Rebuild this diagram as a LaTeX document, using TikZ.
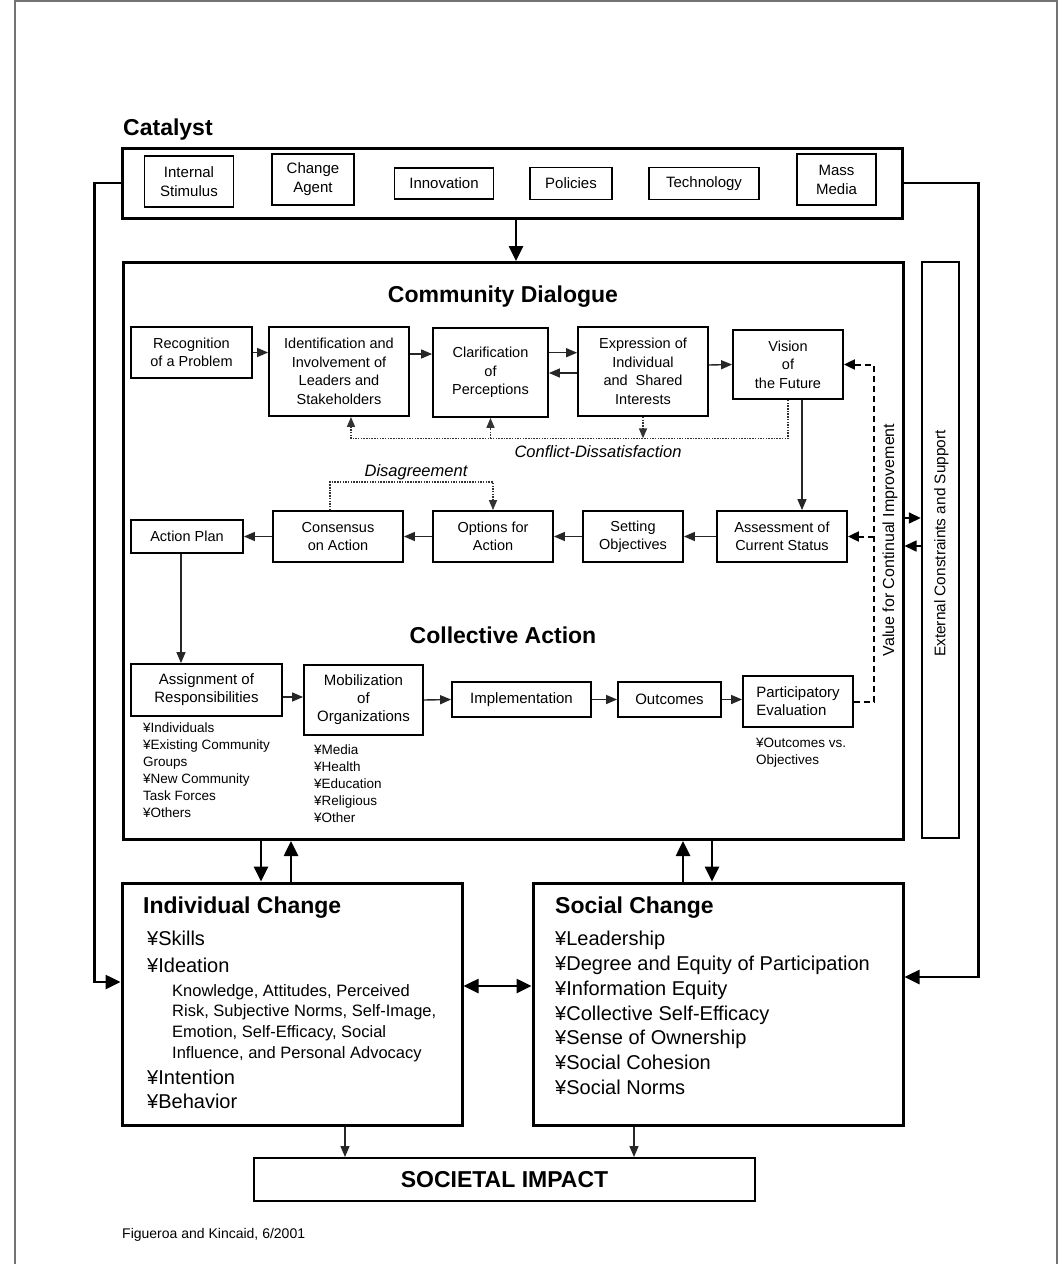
\documentclass[tikz,border=0pt]{standalone}
\usepackage{fontspec}
\setmainfont{Liberation Sans}
\usepackage{tikz}
\usetikzlibrary{arrows.meta,positioning,calc}

\newcommand{\catfs}{\fontsize{15}{19}\selectfont}
\newcommand{\boxfs}{\fontsize{14.5}{18.5}\selectfont}
\newcommand{\actfs}{\fontsize{15}{18}\selectfont}
\newcommand{\headfs}{\fontsize{23}{27}\selectfont\bfseries}
\newcommand{\listfs}{\fontsize{13.5}{16.9}\selectfont}
\newcommand{\itemfs}{\fontsize{20}{24.8}\selectfont}
\newcommand{\subfs}{\fontsize{16.5}{20.8}\selectfont}
\newcommand{\notefs}{\fontsize{16.5}{19}\selectfont\itshape}
\newcommand{\extfs}{\fontsize{15.4}{18}\selectfont}
\newcommand{\valfs}{\fontsize{16}{19}\selectfont}
\newcommand{\creditfs}{\fontsize{14}{17}\selectfont}

\tikzset{
  box/.style={draw, line width=1.8pt, align=center, inner sep=0pt, font=\boxfs},
  bigbox/.style={draw, line width=3pt, inner sep=0pt},
  headlbl/.style={anchor=base west, inner sep=0pt, font=\headfs},
  notelbl/.style={inner sep=0pt, font=\notefs},
  listtxt/.style={anchor=north west, inner sep=0pt, align=left, font=\listfs},
  frame/.style={line width=2.5pt, black!55},
  thinarr/.style={line width=1.4pt, black!85, -{Triangle[length=11pt,width=9pt]}},
  midarr/.style={line width=1.6pt, -{Triangle[length=12pt,width=11pt]}},
  boldarr/.style={line width=2.6pt, -{Triangle[length=15pt,width=14pt]}},
  dotline/.style={line width=1.5pt, black!80, dash pattern=on 1.5pt off 1.2pt},
  dotarr/.style={dotline, -{Triangle[length=10pt,width=8pt]}},
  dasharr/.style={line width=2pt, dash pattern=on 6pt off 4pt, -{Triangle[length=11pt,width=10pt]}},
}

\begin{document}
\begin{tikzpicture}[x=1pt,y=-1pt]
  \useasboundingbox (0,0) rectangle (1062,1264);

  % page frame
  \draw[frame] (15,1264) -- (15,1) -- (1057,1) -- (1057,1264);

  % catalyst
  \node[headlbl] (catlbl) at (123,135) {Catalyst};
  \node[bigbox, minimum width=780pt, minimum height=70pt] (catalyst) at (512,183) {};
  \node[box, font=\catfs, minimum width=89pt, minimum height=51pt] (intstim) at (189,181.5) {Internal\\Stimulus};
  \node[box, font=\catfs, minimum width=82pt, minimum height=51pt] (agent) at (313,179.5) {Change\\Agent};
  \node[box, font=\catfs, minimum width=99pt, minimum height=31pt] (innov) at (444,183.5) {Innovation};
  \node[box, font=\catfs, minimum width=82pt, minimum height=32pt] (policies) at (571,183.5) {Policies};
  \node[box, font=\catfs, minimum width=110pt, minimum height=32pt] (tech) at (704,183.5) {Technology};
  \node[box, font=\catfs, minimum width=79pt, minimum height=51pt] (massmedia) at (836.5,179.5) {Mass\\Media};

  % main frames
  \node[bigbox, minimum width=780pt, minimum height=577pt] (comm) at (513,551) {};
  \node[box, line width=2.4pt, minimum width=37pt, minimum height=576pt] (ext) at (940.5,550) {};
  \node[rotate=90, inner sep=0pt, font=\extfs] (extlbl) at (941.5,543.5) {External Constraints and Support};

  % community dialogue
  \node[headlbl, anchor=base] (dialbl) at (503,302) {Community Dialogue};
  \node[box, minimum width=121pt, minimum height=51pt] (recog) at (191.5,352.5) {Recognition\\of a Problem};
  \node[box, minimum width=140pt, minimum height=89pt] (ident) at (339,371.5) {Identification and\\Involvement of\\Leaders and\\Stakeholders};
  \node[box, minimum width=115pt, minimum height=89pt] (clar) at (490.5,372.5) {Clarification\\of\\Perceptions};
  \node[box, minimum width=130pt, minimum height=89pt] (expr) at (643,371.5) {Expression of\\Individual\\and\ \ Shared\\Interests};
  \node[box, minimum width=110pt, minimum height=69pt] (vision) at (788,364.5) {Vision\\of\\the Future};

  \node[box, minimum width=112pt, minimum height=33pt] (plan) at (187,536.5) {Action Plan};
  \node[box, minimum width=130pt, minimum height=51pt] (consensus) at (338,536.5) {Consensus\\on Action};
  \node[box, minimum width=120pt, minimum height=51pt] (options) at (493,536.5) {Options for\\Action};
  \node[box, minimum width=100pt, minimum height=51pt] (setting) at (633,536.5) {Setting\\Objectives};
  \node[box, minimum width=130pt, minimum height=51pt] (assess) at (782,536.5) {Assessment of\\Current Status};

  % collective action
  \node[headlbl, anchor=base] (actlbl) at (503,643) {Collective Action};
  \node[box, font=\actfs, minimum width=151pt, minimum height=52pt] (assign) at (206.5,690) {Assignment of\\Responsibilities};
  \node[box, font=\actfs, minimum width=119pt, minimum height=70pt] (mobil) at (363.5,700) {Mobilization\\of\\Organizations};
  \node[box, font=\actfs, minimum width=139pt, minimum height=35pt] (impl) at (521.5,699.5) {Implementation};
  \node[box, font=\actfs, minimum width=103pt, minimum height=35pt] (outc) at (669.5,699.5) {Outcomes};
  \node[box, font=\actfs, align=left, minimum width=110pt, minimum height=51pt] (part) at (798,701.5) {Participatory\\Evaluation};

  \node[listtxt] (assignlist) at (143,723) {¥Individuals\\¥Existing Community\\Groups\\¥New Community\\Task Forces\\¥Others};
  \node[listtxt] (mobillist) at (314,745) {¥Media\\¥Health\\¥Education\\¥Religious\\¥Other};
  \node[listtxt] (partlist) at (756,738) {¥Outcomes vs.\\Objectives};

  % change boxes
  \node[bigbox, minimum width=340pt, minimum height=242pt] (indiv) at (292,1004) {};
  \node[bigbox, minimum width=370pt, minimum height=242pt] (social) at (718,1004) {};

  \node[headlbl] (indivlbl) at (143,913) {Individual Change};
  \node[listtxt, font=\fontsize{20}{27}\selectfont] (indivtop) at (147,931) {¥Skills\\¥Ideation};
  \node[listtxt, font=\subfs] (ideation) at (172,984) {Knowledge, Attitudes, Perceived\\Risk, Subjective Norms, Self-Image,\\Emotion, Self-Efficacy, Social\\Influence, and Personal Advocacy};
  \node[listtxt, font=\fontsize{20}{23.5}\selectfont] (indivlow) at (147,1070) {¥Intention\\¥Behavior};

  \node[headlbl] (sociallbl) at (555,913) {Social Change};
  \node[listtxt, font=\itemfs] (sociallist) at (555,931) {¥Leadership\\¥Degree and Equity of Participation\\¥Information Equity\\¥Collective Self-Efficacy\\¥Sense of Ownership\\¥Social Cohesion\\¥Social Norms};

  \node[box, line width=2pt, font=\headfs, minimum width=501pt, minimum height=43pt] (impact) at (504.5,1179.5) {SOCIETAL IMPACT};
  \node[anchor=base west, inner sep=0pt, font=\creditfs] (credit) at (122,1238) {Figueroa and Kincaid, 6/2001};

  % catalyst links
  \draw[boldarr] ([xshift=4pt]catalyst.south) -- ([xshift=3pt]comm.north);
  \draw[boldarr] (catalyst.west) -- ++(-26,0) |- ([yshift=22pt]indiv.west);
  \draw[boldarr] (catalyst.east) -- ++(75,0) |- ([yshift=27pt]social.east);

  % dialogue flow
  \draw[thinarr] (recog.east) -- (ident.west |- recog.east);
  \draw[thinarr] ([yshift=17.5pt]ident.east) -- ([yshift=18.5pt]clar.west);
  \draw[thinarr] ([yshift=19.8pt]clar.east) -- ([yshift=18.8pt]expr.west);
  \draw[thinarr] ([yshift=-1.5pt]expr.west) -- ([yshift=-0.5pt]clar.east);
  \draw[thinarr] ([yshift=6.5pt]expr.east) -- (vision.west);

  % conflict loop
  \draw[dotarr] (vision.south) -- ++(0,38.5) coordinate (conflictend) -| ([xshift=12pt]ident.south);
  \draw[dotarr] (clar.south |- conflictend) -- (clar.south);
  \draw[dotarr] (expr.south) -- (expr.south |- conflictend);
  \node[notelbl] (conflictlbl) at (598,452) {Conflict-Dissatisfaction};
  \draw[thinarr] ([xshift=14pt]vision.south) -- ([xshift=20pt]assess.north);

  % planning row
  \draw[thinarr] (assess.west) -- (setting.east);
  \draw[thinarr] (setting.west) -- (options.east);
  \draw[thinarr] (options.west) -- (consensus.east);
  \draw[thinarr] (consensus.west) -- (plan.east);
  \draw[dotarr] ([xshift=-8pt]consensus.north) -- ++(0,-28) -| (options.north);
  \node[notelbl, anchor=base] (disagreelbl) at (416,476) {Disagreement};
  \draw[thinarr] ([xshift=-6pt]plan.south) -- ([xshift=-25.5pt]assign.north);

  % action row
  \draw[thinarr] ([yshift=-7pt]assign.east) -- ([yshift=3pt]mobil.west);
  \draw[thinarr] (mobil.east) -- (impl.west);
  \draw[thinarr] (impl.east) -- (outc.west);
  \draw[thinarr] (outc.east) -- ([yshift=2pt]part.west);

  % continual improvement feedback
  \draw[dasharr] (part.east) -- ++(20,0) coordinate (valcorner) |- (vision.east);
  \draw[dasharr] (valcorner |- assess.east) -- (assess.east);
  \node[rotate=90, inner sep=0pt, font=\valfs] (vallbl) at (890,540) {Value for Continual Improvement};

  % external constraints
  \draw[midarr] ([yshift=33pt]comm.east) -- ([yshift=32pt]ext.west);
  \draw[midarr] ([yshift=4pt]ext.west) -- ([yshift=5pt]comm.east);

  % community <-> change
  \coordinate (indown) at ([xshift=-31pt]indiv.north);
  \coordinate (inup) at ([xshift=-1pt]indiv.north);
  \draw[boldarr] (indown |- comm.south) -- (indown);
  \draw[boldarr] (inup) -- (inup |- comm.south);
  \coordinate (soup) at ([xshift=-35pt]social.north);
  \coordinate (sodown) at ([xshift=-6pt]social.north);
  \draw[boldarr] (soup) -- (soup |- comm.south);
  \draw[boldarr] (sodown |- comm.south) -- (sodown);
  \draw[boldarr, {Triangle[length=15pt,width=14pt]}-{Triangle[length=15pt,width=14pt]}] ([yshift=18pt]indiv.east) -- ([yshift=18pt]social.west);

  % societal impact
  \coordinate (inout) at ([xshift=53pt]indiv.south);
  \coordinate (soout) at ([xshift=-84pt]social.south);
  \draw[thinarr] (inout) -- (inout |- impact.north);
  \draw[thinarr] (soout) -- (soout |- impact.north);
\end{tikzpicture}
\end{document}
